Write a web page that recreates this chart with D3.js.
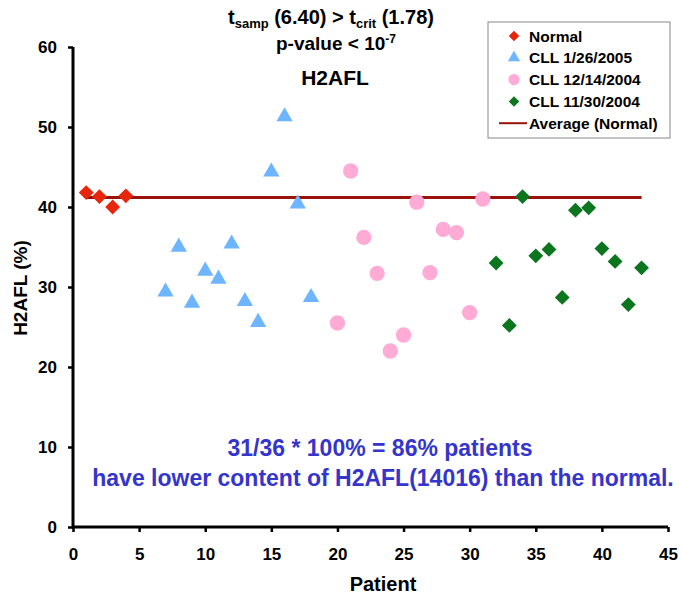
<!DOCTYPE html>
<html>
<head>
<meta charset="utf-8">
<title>H2AFL</title>
<style>
  body { margin: 0; background: #fff; }
  svg text { font-family: "Liberation Sans", Arial, sans-serif; font-weight: bold; }
</style>
</head>
<body>
<svg id="chart" width="681" height="597"></svg>
<script src="https://cdn.jsdelivr.net/npm/d3@7"></script>
<script>
// values
var normalX = [1, 2, 3, 4];
var normalY = [41.8, 41.3, 40.0, 41.4];

var cll0126X = [7, 8, 9, 10, 11, 12, 13, 14, 15, 16, 17, 18];
var cll0126Y = [29.4, 35.0, 28.0, 32.0, 31.0, 35.4, 28.2, 25.6, 44.4, 51.3, 40.4, 28.7];

var cll1214X = [20, 21, 22, 23, 24, 25, 26, 27, 28, 29, 30, 31];
var cll1214Y = [25.5, 44.5, 36.2, 31.7, 22.0, 24.0, 40.6, 31.8, 37.2, 36.8, 26.8, 41.0];

var cll1130X = [32, 33, 34, 35, 36, 37, 38, 39, 40, 41, 42, 43];
var cll1130Y = [33.0, 25.2, 41.3, 33.9, 34.7, 28.7, 39.6, 39.9, 34.8, 33.2, 27.8, 32.4];

var averageNormal = 41.2;
var averageRange = [1, 43];

var xTicks = [0, 5, 10, 15, 20, 25, 30, 35, 40, 45];
var yTicks = [0, 10, 20, 30, 40, 50, 60];

var legendLabels = ["Normal", "CLL 1/26/2005", "CLL 12/14/2004", "CLL 11/30/2004", "Average (Normal)"];

var svg = d3.select("#chart");

var x = d3.scaleLinear().domain([0, 45]).range([73, 668]);
var y = d3.scaleLinear().domain([0, 60]).range([527, 47]);

// axes
var xAxis = svg.append("g")
  .attr("transform", "translate(0," + y(0) + ")")
  .call(d3.axisBottom(x).tickValues(xTicks).tickSize(5).tickPadding(16));
var yAxis = svg.append("g")
  .attr("transform", "translate(" + x(0) + ",0)")
  .call(d3.axisLeft(y).tickValues(yTicks).tickSize(5).tickPadding(11));

[xAxis, yAxis].forEach(function (g) {
  g.select(".domain").attr("stroke", "#000").attr("stroke-width", 3);
  g.selectAll(".tick line").attr("stroke", "#000").attr("stroke-width", 2.5);
  g.selectAll(".tick text").attr("fill", "#000").style("font-size", "17px");
});
xAxis.select(".domain").attr("d", "M" + (x(0) - 1) + ",0H" + x(45));
yAxis.select(".domain").attr("d", "M0," + y(60) + "V" + (y(0) + 1.5));

// axis titles
svg.append("text").attr("x", 383).attr("y", 591)
  .attr("text-anchor", "middle").style("font-size", "20px").text("Patient");
svg.append("text")
  .attr("transform", "translate(27," + (y(30) + 1) + ") rotate(-90)")
  .attr("text-anchor", "middle").style("font-size", "19px").text("H2AFL (%)");

// titles
var t1 = svg.append("text").attr("x", 331).attr("y", 24)
  .attr("text-anchor", "middle").style("font-size", "20px");
t1.append("tspan").text("t");
t1.append("tspan").attr("dy", 4).style("font-size", "13px").text("samp");
t1.append("tspan").attr("dy", -4).text(" (6.40) > t");
t1.append("tspan").attr("dy", 4).style("font-size", "13px").text("crit");
t1.append("tspan").attr("dy", -4).text(" (1.78)");

var t2 = svg.append("text").attr("x", 336).attr("y", 50)
  .attr("text-anchor", "middle").style("font-size", "19px");
t2.append("tspan").text("p-value < 10");
t2.append("tspan").attr("dy", -7).style("font-size", "12px").text("-7");

svg.append("text").attr("x", 335).attr("y", 85)
  .attr("text-anchor", "middle").style("font-size", "21px").text("H2AFL");

// average line
svg.append("line")
  .attr("x1", x(averageRange[0])).attr("x2", x(averageRange[1]))
  .attr("y1", y(averageNormal)).attr("y2", y(averageNormal))
  .attr("stroke", "#9b1208").attr("stroke-width", 3);

var diamond = d3.symbol().type(d3.symbolSquare).size(110);
var triangle = d3.symbol().type(d3.symbolTriangle).size(115);
var circle = d3.symbol().type(d3.symbolCircle).size(185);

function plotSeries(xs, ys, sym, color, rot) {
  svg.append("g").selectAll("path")
    .data(xs.map(function (d, i) { return [d, ys[i]]; }))
    .join("path")
    .attr("d", sym)
    .attr("fill", color)
    .attr("transform", function (d) {
      return "translate(" + x(d[0]) + "," + y(d[1]) + ")" + (rot ? " rotate(45)" : "");
    });
}

plotSeries(normalX, normalY, diamond, "#e8260c", true);
plotSeries(cll0126X, cll0126Y, triangle, "#6db5ff", false);
plotSeries(cll1214X, cll1214Y, circle, "#ffabd6", false);
plotSeries(cll1130X, cll1130Y, diamond, "#0b761d", true);

// legend
var legend = svg.append("g");
legend.append("rect").attr("x", 488).attr("y", 22).attr("width", 182).attr("height", 116)
  .attr("fill", "#fff").attr("stroke", "#888").attr("stroke-width", 1);
var legendSyms = [
  { sym: d3.symbol().type(d3.symbolSquare).size(55), color: "#e8260c", rot: true },
  { sym: d3.symbol().type(d3.symbolTriangle).size(65), color: "#6db5ff", rot: false },
  { sym: d3.symbol().type(d3.symbolCircle).size(100), color: "#ffabd6", rot: false },
  { sym: d3.symbol().type(d3.symbolSquare).size(55), color: "#0b761d", rot: true }
];
legendLabels.forEach(function (lab, i) {
  var ly = 36 + i * 21.8;
  if (i < 4) {
    legend.append("path").attr("d", legendSyms[i].sym).attr("fill", legendSyms[i].color)
      .attr("transform", "translate(514," + ly + ")" + (legendSyms[i].rot ? " rotate(45)" : ""));
  } else {
    legend.append("line").attr("x1", 499).attr("x2", 527).attr("y1", ly).attr("y2", ly)
      .attr("stroke", "#9b1208").attr("stroke-width", 2);
  }
  legend.append("text").attr("x", 529).attr("y", ly + 5.5).style("font-size", "15.5px")
    .attr("fill", "#000").text(lab);
});

// annotation
svg.append("text").attr("x", 380).attr("y", 456).attr("text-anchor", "middle")
  .attr("fill", "#3535cc").style("font-size", "23px").text("31/36 * 100% = 86% patients");
svg.append("text").attr("x", 383).attr("y", 486).attr("text-anchor", "middle")
  .attr("fill", "#3535cc").style("font-size", "23px").text("have lower content of H2AFL(14016) than the normal.");
</script>
</body>
</html>
